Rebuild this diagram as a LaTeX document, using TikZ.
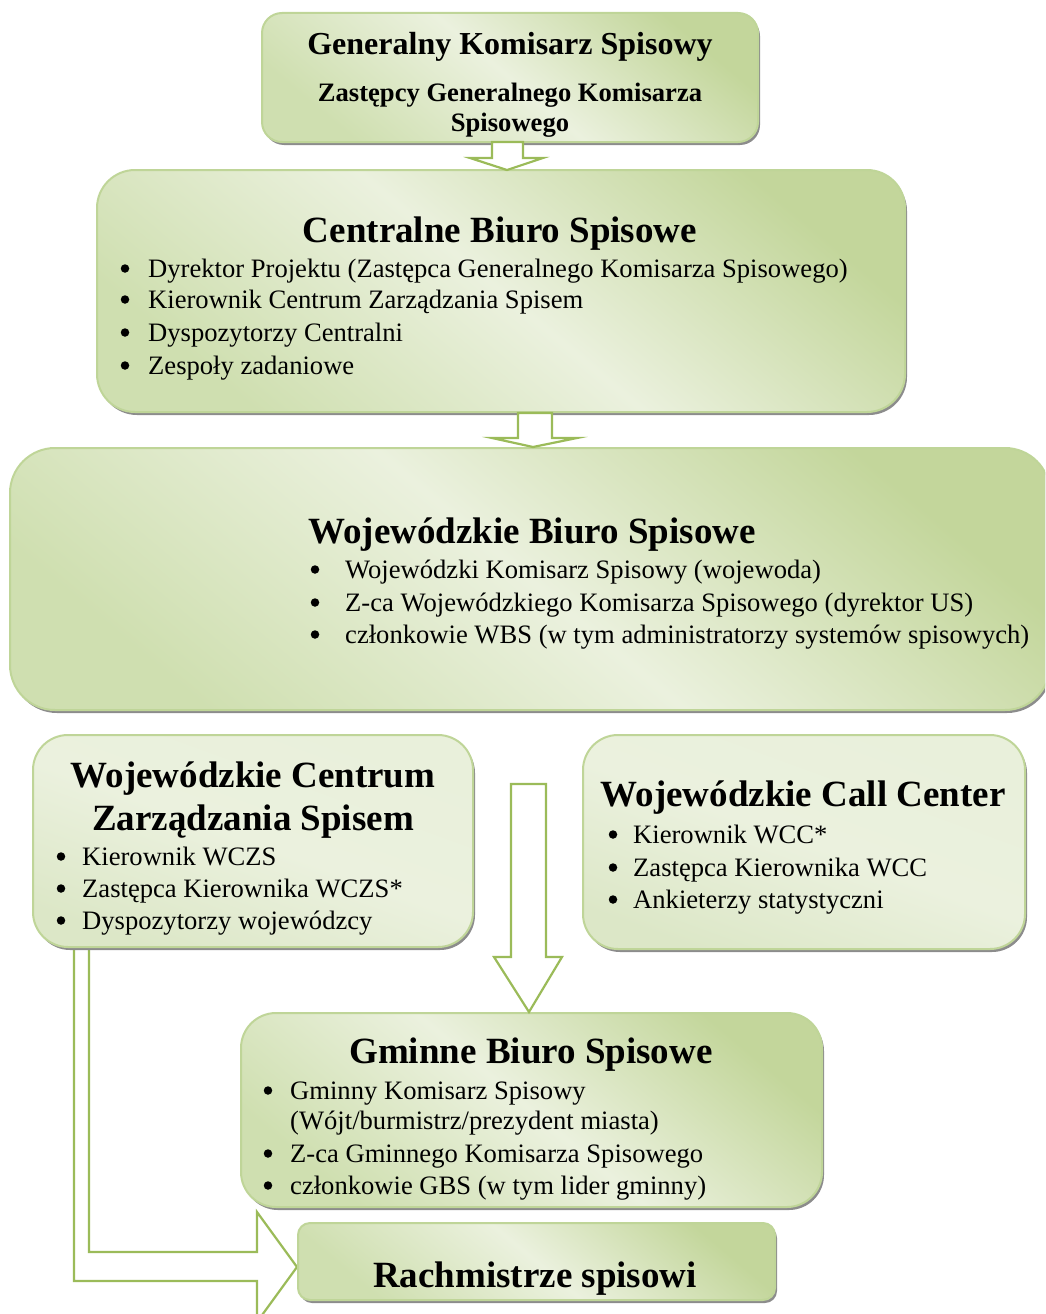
\documentclass[tikz,border=0pt]{standalone}
\usepackage{fontspec}
\setmainfont{Liberation Serif}
\usetikzlibrary{shadows}
\definecolor{gborder}{HTML}{BFD598}
\definecolor{garrow}{HTML}{9BBB59}
\definecolor{glight}{HTML}{EBF1DE}
\definecolor{gdark}{HTML}{C3D69B}
\definecolor{gmid}{HTML}{CFDFB0}
\definecolor{gpale}{HTML}{E9F0DB}
\definecolor{gpaled}{HTML}{DCE7C7}
\newcommand\blt[5]{\node[bul] (#1b) at (#2,#4-8.5) {}; \node[itm] (#1) at (#3,#4) {#5};}
\begin{document}
\begin{tikzpicture}[x=1pt,y=-1pt,
  box/.style={draw=gborder, line width=2pt, top color=gdark, bottom color=gmid, middle color=glight, shading angle=-40,
    general shadow={fill=black!45, shadow xshift=2pt, shadow yshift=-3pt}, inner sep=0, rectangle},
  palebox/.style={box, top color=gpale, bottom color=gpaled, middle color=glight, shading angle=-20},
  blockarrow/.style={draw=garrow, line width=2.2pt, fill=white, line join=miter},
  ttl/.style={font=\bfseries\fontsize{37}{42}\selectfont, anchor=base, inner sep=0},
  itm/.style={font=\fontsize{26.6}{32}\selectfont, anchor=base west, inner sep=0},
  bul/.style={circle, fill=black, inner sep=0, minimum size=8.5pt}]
\useasboundingbox (0,0) rectangle (1045,1314);
\clip (0,0) rectangle (1045,1314);

% L-shaped arrow from WCZS to Rachmistrze
\draw[blockarrow] (74,940) -- (74,1281) -- (257,1281) -- (257,1322) -- (297,1267) -- (257,1212) -- (257,1252) -- (89,1252) -- (89,940);

% boxes
\node[box, minimum width=496pt, minimum height=129pt, rounded corners=20pt] (gks) at (510,77.5) {};
\node[box, minimum width=808pt, minimum height=242pt, rounded corners=38pt] (cbs) at (501,291) {};
\node[box, minimum width=1040pt, minimum height=262pt, rounded corners=45pt] (wbs) at (530,579) {};
\node[palebox, minimum width=440pt, minimum height=212pt, rounded corners=35pt] (wczs) at (253,841) {};
\node[palebox, minimum width=442pt, minimum height=214pt, rounded corners=35pt] (wcc) at (804,842) {};
\node[box, minimum width=581pt, minimum height=194pt, rounded corners=35pt] (gbs) at (531.5,1110) {};
\node[box, minimum width=477pt, minimum height=77pt, rounded corners=12pt] (rach) at (536.5,1261.5) {};

% arrows
\draw[blockarrow] (492,142) -- (523,142) -- (523,158) -- (543,158) -- (507,170) -- (470,158) -- (492,158) -- cycle;
\draw[blockarrow] (518,413) -- (552,413) -- (552,438) -- (577,438) -- (533,447) -- (492,438) -- (518,438) -- cycle;
\draw[blockarrow] (511,784) -- (546,784) -- (546,957) -- (562,957) -- (529,1012) -- (494,957) -- (511,957) -- cycle;

% texts: GKS
\node[ttl, font=\bfseries\fontsize{32}{36}\selectfont] (gkst) at (510,55) {Generalny Komisarz Spisowy};
\node[ttl, font=\bfseries\fontsize{26.6}{30}\selectfont] (gkss1) at (510,101) {Zastępcy Generalnego Komisarza};
\node[ttl, font=\bfseries\fontsize{26.6}{30}\selectfont] (gkss2) at (510,131) {Spisowego};

% CBS
\node[ttl] (cbst) at (500,242) {Centralne Biuro Spisowe};
\blt{c1}{125}{148}{277}{Dyrektor Projektu (Zastępca Generalnego Komisarza Spisowego)}
\blt{c2}{125}{148}{308}{Kierownik Centrum Zarządzania Spisem}
\blt{c3}{125}{148}{341}{Dyspozytorzy Centralni}
\blt{c4}{125}{148}{374}{Zespoły zadaniowe}

% WBS
\node[ttl] (wbst) at (532,543) {Wojewódzkie Biuro Spisowe};
\blt{w1}{315}{345}{578}{Wojewódzki Komisarz Spisowy (wojewoda)}
\blt{w2}{315}{345}{611}{Z-ca Wojewódzkiego Komisarza Spisowego (dyrektor US)}
\blt{w3}{315}{345}{643}{członkowie WBS (w tym administratorzy systemów spisowych)}

% WCZS
\node[ttl] (wczst1) at (253,787) {Wojewódzkie Centrum};
\node[ttl] (wczst2) at (253,830) {Zarządzania Spisem};
\blt{z1}{61}{82}{865}{Kierownik WCZS}
\blt{z2}{61}{82}{897}{Zastępca Kierownika WCZS*}
\blt{z3}{61}{82}{929}{Dyspozytorzy wojewódzcy}

% WCC
\node[ttl] (wcct) at (803,806) {Wojewódzkie Call Center};
\blt{k1}{613}{633}{843}{Kierownik WCC*}
\blt{k2}{613}{633}{876}{Zastępca Kierownika WCC}
\blt{k3}{613}{633}{908}{Ankieterzy statystyczni}

% GBS
\node[ttl] (gbst) at (531,1063) {Gminne Biuro Spisowe};
\blt{g1}{268}{290}{1099}{Gminny Komisarz Spisowy}
\node[itm] (g1b2) at (290,1129) {(Wójt/burmistrz/prezydent miasta)};
\blt{g2}{268}{290}{1162}{Z-ca Gminnego Komisarza Spisowego}
\blt{g3}{268}{290}{1194}{członkowie GBS (w tym lider gminny)}

% Rachmistrze
\node[ttl] (racht) at (535,1287) {Rachmistrze spisowi};
\end{tikzpicture}
\end{document}
